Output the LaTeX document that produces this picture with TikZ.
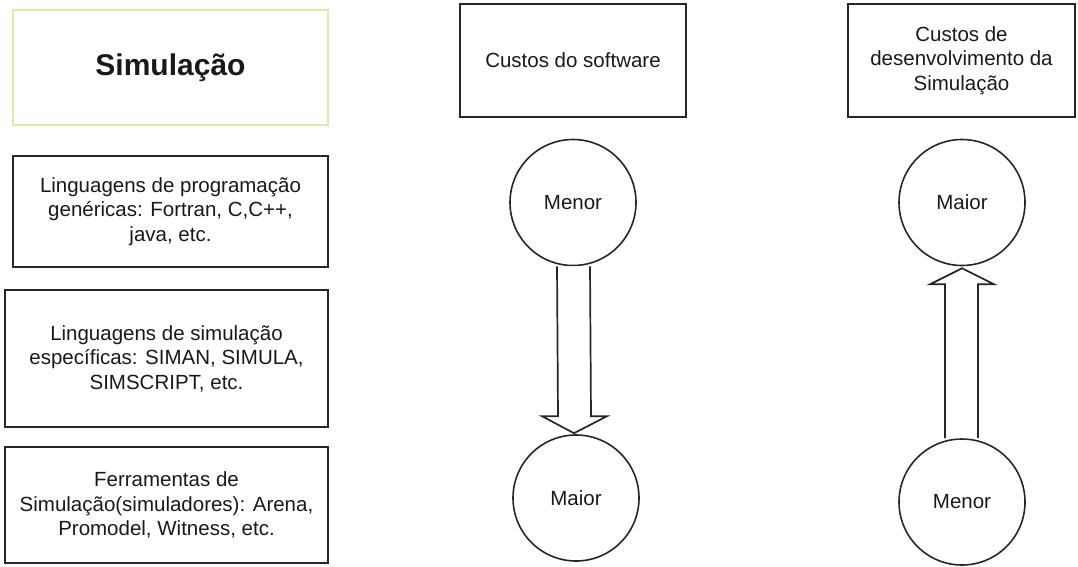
\documentclass[tikz,border=0pt]{standalone}
\usepackage{fontspec}
\setmainfont{Liberation Sans}
\usetikzlibrary{calc}
\definecolor{titleedge}{HTML}{E2E9A6}
\begin{document}
\begin{tikzpicture}[x=1pt,y=-1pt,
  every node/.style={font=\fontsize{20.5}{24.5}\selectfont, text=black!90},
  levelbox/.style={draw=black!85, line width=1.7pt, minimum width=#1, align=center, inner sep=0pt},
  costbox/.style={draw=black!85, line width=1.7pt, align=center, inner sep=0pt},
  level/.style={draw=black!85, line width=1.6pt, circle, minimum size=126pt, inner sep=0pt},
  bigarrow/.style={draw=black!85, line width=1.7pt, fill=white, line join=miter}]
\useasboundingbox (0,0) rectangle (1078,567);

% left column: the simulation tools, from generic languages to simulators
\node[draw=titleedge, line width=1.6pt, minimum width=315pt, minimum height=115pt,
      font=\fontsize{30}{34}\selectfont\bfseries] (sim) at (170.5,67.5) {Simulação};
\node[levelbox=315pt, minimum height=111pt] (gen) at (170.5,211.5)
  {Linguagens de programação\\genéricas: Fortran, C,C++,\\java, etc.};
\node[levelbox=323pt, minimum height=137pt] (spec) at (166.5,358.5)
  {Linguagens de simulação\\específicas: SIMAN, SIMULA,\\SIMSCRIPT, etc.};
\node[levelbox=323pt, minimum height=116pt] (tool) at (166.5,505)
  {Ferramentas de\\Simulação(simuladores): Arena,\\Promodel, Witness, etc.};

% middle column: software cost
\node[costbox, minimum width=226pt, minimum height=113pt] (soft) at (573,60.5)
  {Custos do software};
\node[level] (sA) at (573,202.5) {Menor};
\node[level] (sB) at (576,498) {Maior};

% right column: development cost
\node[costbox, minimum width=227pt, minimum height=113pt] (dev) at (961.5,60.5)
  {Custos de\\desenvolvimento da\\Simulação};
\node[level] (dA) at (962,202.5) {Maior};
\node[level] (dB) at (962,502) {Menor};

% hollow block arrow pointing down, from sA to sB
\draw[bigarrow]
  ($(sA.south)+(-16,0)$) -- ($(sB.north)+(-18,-18)$) -- ($(sB.north)+(-34,-18)$)
  -- ($(sB.north)+(-2,-1)$)
  -- ($(sB.north)+(31,-18)$) -- ($(sB.north)+(15,-18)$) -- ($(sA.south)+(17,0)$);

% hollow block arrow pointing up, from dB to dA
\draw[bigarrow]
  ($(dB.north)+(-17,0)$) -- ($(dA.south)+(-17,18)$) -- ($(dA.south)+(-32,18)$)
  -- ($(dA.south)+(0,2)$)
  -- ($(dA.south)+(32,18)$) -- ($(dA.south)+(16,18)$) -- ($(dB.north)+(16,0)$);
\end{tikzpicture}
\end{document}
